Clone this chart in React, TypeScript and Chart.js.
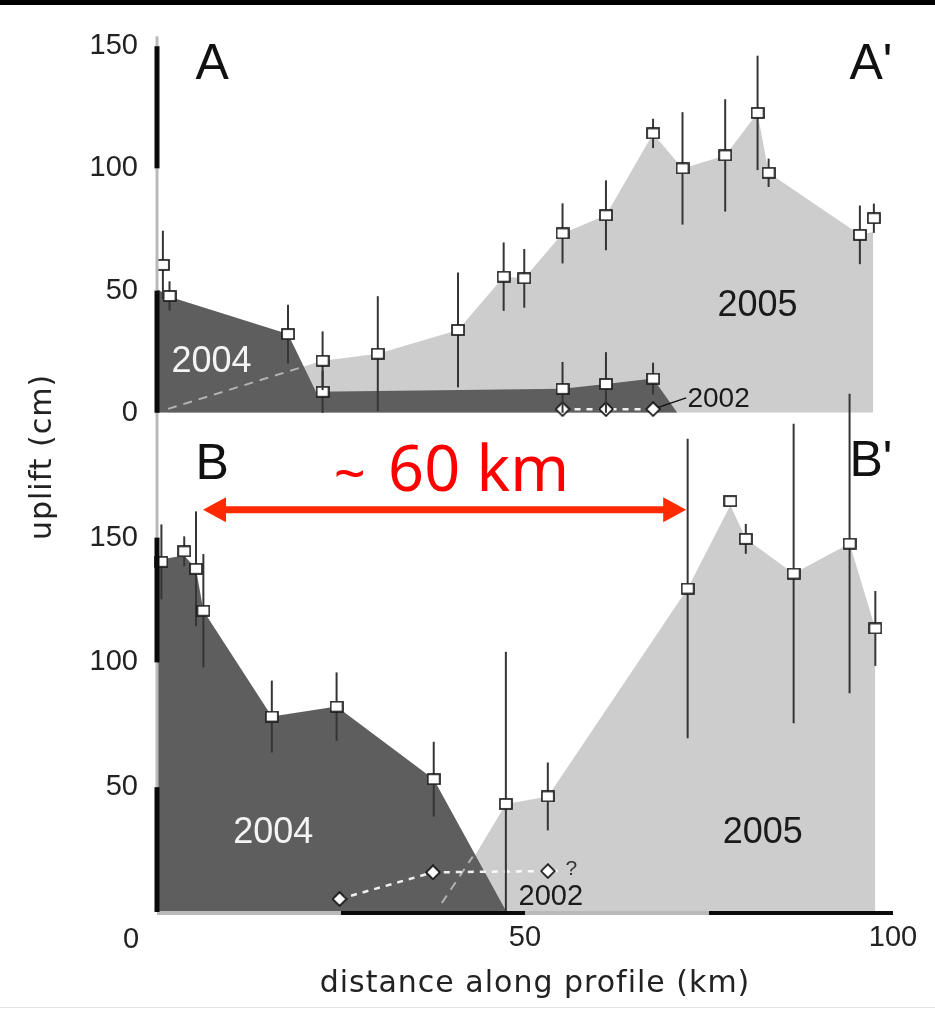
import React, { useEffect, useRef } from 'react';
import { Chart, registerables } from 'chart.js';

Chart.register(...registerables);

// ---------------- data ----------------
// x = distance along profile (km), y = uplift (cm)

// Profile A–A' (upper panel): 2005 measurements
const A_2005_KM = [0.8, 22.5, 30.0, 40.9, 47.1, 49.9, 55.1, 61.0, 67.4, 71.4, 77.2, 81.6, 83.1, 95.5, 97.4];
const A_2005_CM = [60.5, 21.3, 24.2, 33.9, 55.7, 55.0, 73.4, 80.8, 114.3, 100.0, 105.3, 122.7, 98.2, 72.8, 79.6];
const A_2005_ERR = [14, 12, 23.5, 23.5, 14, 12, 12.3, 14.3, 6, 23, 23, 23.4, 5.8, 12, 6];
// Profile A–A': 2004 measurements
const A_2004_KM = [1.7, 17.8, 22.5, 55.1, 61.0, 67.4];
const A_2004_CM = [47.8, 32.2, 8.6, 9.8, 11.8, 14.0];
const A_2004_ERR = [6, 12, 8.6, 11, 13, 6.5];
// Profile A–A': 2002
const A_2002_KM = [55.1, 61.0, 67.4];
const A_2002_CM = [1.5, 1.5, 1.5];
const A_2002_LEADER_KM = [67.4, 71.9];
const A_2002_LEADER_CM = [1.5, 6.1];
// Profile A–A': uplift envelopes
const A_2005_EDGE_KM = [1.5, 19.4, 22.5, 30.0, 40.9, 47.1, 49.9, 55.1, 61.0, 67.4, 71.4, 77.2, 81.6, 83.1, 95.5, 97.3, 97.3];
const A_2005_EDGE_CM = [1.6, 18.4, 21.3, 24.2, 33.9, 55.7, 55.0, 73.4, 80.8, 114.3, 100.0, 105.3, 122.7, 98.2, 72.8, 74.0, 0];
const A_2005_HIDDEN_KM = [1.5, 19.4];
const A_2005_HIDDEN_CM = [1.6, 18.4];
const A_2004_EDGE_KM = [0, 1.7, 17.8, 21.6, 55.1, 61.0, 67.4, 70.7];
const A_2004_EDGE_CM = [50.7, 47.5, 32.2, 8.6, 9.8, 11.8, 14.0, 0];

// Profile B–B' (lower panel): 2005 measurements
const B_2005_KM = [47.4, 53.1, 72.1, 77.9, 80.0, 86.5, 94.1, 97.6];
const B_2005_CM = [43.3, 46.3, 129.6, 164.6, 149.5, 135.6, 147.6, 113.6];
const B_2005_ERR = [61, 13.6, 60, 0, 6, 60, 60, 15];
// Profile B–B': 2004 measurements
const B_2004_KM = [0.6, 3.7, 5.3, 6.3, 15.6, 24.4, 37.6];
const B_2004_CM = [140.3, 144.5, 137.5, 120.7, 78.3, 82.3, 53.2];
const B_2004_ERR = [15, 6, 23, 22.7, 14.4, 13.7, 15];
// Profile B–B': 2002
const B_2002_KM = [24.8, 37.5, 53.1];
const B_2002_CM = [5.2, 15.9, 16.4];
const B_2002_TAIL_KM = 54.8;
// Profile B–B': uplift envelopes
const B_2005_EDGE_KM = [38.6, 47.4, 53.1, 72.1, 77.9, 80.0, 86.5, 94.1, 97.6, 97.6];
const B_2005_EDGE_CM = [0, 43.3, 46.3, 129.6, 163.0, 149.5, 135.6, 147.6, 113.6, 0];
const B_2005_HIDDEN_KM = [38.7, 42.9];
const B_2005_HIDDEN_CM = [3.6, 22.2];
const B_2004_EDGE_KM = [0, 3.7, 5.3, 6.3, 15.6, 24.4, 37.6, 47.5];
const B_2004_EDGE_CM = [141.0, 142.8, 137.5, 120.7, 78.3, 82.3, 53.2, 0];

// axes
const X_TICKS = [50, 100];
const X_ZERO_LABEL = '0';
const A_TICKS = [0, 50, 100, 150];
const B_TICKS = [50, 100, 150];
const A_MAX = 154;
const B_MAX = 200;

// annotation: "~ 60 km" arrow (data coordinates of lower panel)
const ARROW_KM = [6.25, 71.9];
const ARROW_CM = 161.2;

// ---------------- styling ----------------
const LIGHT = '#cdcdcd';
const DARK = '#5e5e5e';
const F_TICK = '"Liberation Sans", Arial, Helvetica, sans-serif';
const F_TITLE = '"DejaVu Sans", Verdana, sans-serif';
const F_RED = '"Noto Sans", "Open Sans", sans-serif';

const LABELS = [
  { text: 'A', km: 7.5, cm: 142.4, axis: 'yA', size: 50, color: '#111' },
  { text: "A'", km: 97.0, cm: 142.4, axis: 'yA', size: 50, color: '#111' },
  { text: 'B', km: 7.5, cm: 178.8, axis: 'yB', size: 50, color: '#111' },
  { text: "B'", km: 97.0, cm: 180.0, axis: 'yB', size: 50, color: '#111' },
  { text: '2004', km: 7.4, cm: 20.8, axis: 'yA', size: 36, color: '#f4f4f4' },
  { text: '2005', km: 81.6, cm: 43.6, axis: 'yA', size: 36, color: '#1a1a1a' },
  { text: '2002', km: 76.3, cm: 5.7, axis: 'yA', size: 28, color: '#1a1a1a' },
  { text: '2004', km: 15.8, cm: 31.6, axis: 'yB', size: 36, color: '#f4f4f4' },
  { text: '2005', km: 82.3, cm: 31.6, axis: 'yB', size: 36, color: '#1a1a1a' },
  { text: '2002', km: 53.5, cm: 6.1, axis: 'yB', size: 29, color: '#1a1a1a' },
  { text: '?', km: 56.3, cm: 17.2, axis: 'yB', size: 21, color: '#333' },
];

const pts = (xs: number[], ys: number[]) => xs.map((x, i) => ({ x, y: ys[i] }));

function makeSquare(): HTMLCanvasElement {
  const c = document.createElement('canvas');
  c.width = 14;
  c.height = 12;
  const g = c.getContext('2d')!;
  g.fillStyle = '#fff';
  g.strokeStyle = '#1e1e1e';
  g.lineWidth = 1.7;
  g.fillRect(1, 1, 12, 10);
  g.strokeRect(1, 1, 12, 10);
  return c;
}

function makeDiamond(): HTMLCanvasElement {
  const c = document.createElement('canvas');
  c.width = 16;
  c.height = 16;
  const g = c.getContext('2d')!;
  g.beginPath();
  g.moveTo(8, 1.2);
  g.lineTo(14.8, 8);
  g.lineTo(8, 14.8);
  g.lineTo(1.2, 8);
  g.closePath();
  g.fillStyle = '#fff';
  g.fill();
  g.strokeStyle = '#111';
  g.lineWidth = 1.7;
  g.stroke();
  return c;
}

const errorBarPlugin = {
  id: 'errorBars',
  beforeDatasetDraw(chart: any, args: any) {
    const ds = chart.data.datasets[args.index];
    if (!ds.errors) return;
    const ys = chart.scales[ds.yAxisID];
    const xs = chart.scales.x;
    const ctx = chart.ctx;
    ctx.save();
    ctx.strokeStyle = '#353535';
    ctx.lineWidth = 2;
    ds.data.forEach((p: any, i: number) => {
      const e = ds.errors[i];
      if (!e) return;
      const px = xs.getPixelForValue(p.x);
      ctx.beginPath();
      ctx.moveTo(px, ys.getPixelForValue(Math.max(0, p.y - e)));
      ctx.lineTo(px, ys.getPixelForValue(p.y + e));
      ctx.stroke();
    });
    ctx.restore();
  },
};

const decorPlugin = {
  id: 'decor',
  beforeDraw(chart: any) {
    const { ctx, width, height } = chart;
    ctx.save();
    ctx.fillStyle = '#fff';
    ctx.fillRect(0, 0, width, height);
    ctx.fillStyle = '#000';
    ctx.fillRect(0, 0, width, 5);
    ctx.fillStyle = '#e4e4e4';
    ctx.fillRect(0, height - 3, width, 1);
    ctx.restore();
  },
  afterDatasetsDraw(chart: any) {
    const ctx = chart.ctx;
    const x = chart.scales.x;
    const yA = chart.scales.yA;
    const yB = chart.scales.yB;
    const area = chart.chartArea;
    ctx.save();
    ctx.lineCap = 'butt';

    const seg = (x1: number, y1: number, x2: number, y2: number, dark: boolean, w: number) => {
      ctx.beginPath();
      ctx.lineWidth = w;
      ctx.strokeStyle = dark ? '#0b0b0b' : '#b9b9b9';
      ctx.moveTo(x1, y1);
      ctx.lineTo(x2, y2);
      ctx.stroke();
    };
    // scale-bar style axes: gray first, black on top
    for (const pass of [false, true]) {
      for (const [sc, mx] of [[yA, A_MAX], [yB, B_MAX]] as any) {
        for (let v = 0; v < mx; v += 50) {
          const dark = (v / 50) % 2 === 0;
          if (dark !== pass) continue;
          seg(area.left, sc.getPixelForValue(v), area.left, sc.getPixelForValue(Math.min(v + 50, mx)), dark, dark ? 5 : 3);
        }
      }
      for (let v = 0; v < 100; v += 25) {
        const dark = (v / 25) % 2 === 1;
        if (dark !== pass) continue;
        const yy = area.bottom + 1;
        seg(x.getPixelForValue(v), yy, x.getPixelForValue(v + 25), yy, dark, 4);
      }
    }

    // text labels inside the panels
    ctx.textAlign = 'center';
    ctx.textBaseline = 'middle';
    for (const l of LABELS) {
      const sc = chart.scales[l.axis];
      ctx.font = `${l.size}px ${F_TICK}`;
      ctx.fillStyle = l.color;
      ctx.fillText(l.text, x.getPixelForValue(l.km), sc.getPixelForValue(l.cm));
    }

    // red arrow "~ 60 km"
    const ax1 = x.getPixelForValue(ARROW_KM[0]);
    const ax2 = x.getPixelForValue(ARROW_KM[1]);
    const ay = yB.getPixelForValue(ARROW_CM);
    ctx.strokeStyle = '#ff2a00';
    ctx.fillStyle = '#ff2a00';
    ctx.lineWidth = 7;
    ctx.beginPath();
    ctx.moveTo(ax1 + 18, ay);
    ctx.lineTo(ax2 - 18, ay);
    ctx.stroke();
    ctx.beginPath();
    ctx.moveTo(ax1, ay);
    ctx.lineTo(ax1 + 23, ay - 12.5);
    ctx.lineTo(ax1 + 23, ay + 12.5);
    ctx.closePath();
    ctx.fill();
    ctx.beginPath();
    ctx.moveTo(ax2, ay);
    ctx.lineTo(ax2 - 23, ay - 12.5);
    ctx.lineTo(ax2 - 23, ay + 12.5);
    ctx.closePath();
    ctx.fill();
    ctx.fillStyle = '#ff0000';
    ctx.textBaseline = 'alphabetic';
    ctx.textAlign = 'left';
    const textBase = ay - 19;
    ctx.font = `56px ${F_RED}`;
    ctx.fillText('~', x.getPixelForValue(24.0), textBase + 2);
    ctx.font = `63px ${F_RED}`;
    ctx.fillText('60 km', x.getPixelForValue(31.4), textBase);

    // axis titles and corner tick
    ctx.fillStyle = '#222';
    ctx.textAlign = 'center';
    (ctx as any).letterSpacing = '1px';
    ctx.font = `30px ${F_TITLE}`;
    ctx.textBaseline = 'alphabetic';
    ctx.fillText('distance along profile (km)', 535, 992);
    ctx.save();
    ctx.translate(51, 457);
    ctx.rotate(-Math.PI / 2);
    ctx.fillText('uplift (cm)', 0, 0);
    ctx.restore();
    (ctx as any).letterSpacing = '0px';
    ctx.font = `29px ${F_TICK}`;
    ctx.textBaseline = 'middle';
    ctx.fillText(X_ZERO_LABEL, 131, 940);
    ctx.restore();
  },
};

export default function App() {
  const ref = useRef<HTMLCanvasElement>(null);

  useEffect(() => {
    const canvas = ref.current!;
    const square = makeSquare();
    const diamond = makeDiamond();

    const measured = (label: string, axis: string, km: number[], cm: number[], err: number[]) => ({
      label,
      yAxisID: axis,
      data: pts(km, cm),
      errors: err,
      showLine: false,
      pointStyle: square,
      pointRadius: 6,
      pointHoverRadius: 6,
      clip: false,
      order: 1,
    });
    const envelope = (label: string, axis: string, km: number[], cm: number[], color: string, order: number) => ({
      label,
      yAxisID: axis,
      data: pts(km, cm),
      fill: 'origin',
      backgroundColor: color,
      borderColor: 'rgba(0,0,0,0)',
      borderWidth: 1,
      pointRadius: 0,
      tension: 0,
      order,
    });
    const hidden = (label: string, axis: string, km: number[], cm: number[]) => ({
      label,
      yAxisID: axis,
      data: pts(km, cm),
      borderColor: '#b3b3b3',
      borderDash: [9, 7],
      borderWidth: 2,
      pointRadius: 0,
      fill: false,
      clip: false,
      order: 15,
    });

    const chart = new Chart(canvas, {
      type: 'line',
      data: {
        datasets: [
          envelope('2005 A', 'yA', A_2005_EDGE_KM, A_2005_EDGE_CM, LIGHT, 20),
          envelope('2004 A', 'yA', A_2004_EDGE_KM, A_2004_EDGE_CM, DARK, 18),
          hidden('2005 A hidden', 'yA', A_2005_HIDDEN_KM, A_2005_HIDDEN_CM),
          envelope('2005 B', 'yB', B_2005_EDGE_KM, B_2005_EDGE_CM, LIGHT, 20),
          envelope('2004 B', 'yB', B_2004_EDGE_KM, B_2004_EDGE_CM, DARK, 18),
          hidden('2005 B hidden', 'yB', B_2005_HIDDEN_KM, B_2005_HIDDEN_CM),
          {
            label: '2002 A leader',
            yAxisID: 'yA',
            data: pts(A_2002_LEADER_KM, A_2002_LEADER_CM),
            borderColor: '#111',
            borderWidth: 1.5,
            pointRadius: 0,
            fill: false,
            clip: false,
            order: 6,
          },
          {
            label: '2002 A',
            yAxisID: 'yA',
            data: pts(A_2002_KM, A_2002_CM),
            borderColor: 'rgba(255,255,255,0.9)',
            borderDash: [6, 6],
            borderWidth: 2.5,
            pointStyle: diamond,
            pointRadius: 7,
            fill: false,
            clip: false,
            order: 5,
          },
          {
            label: '2002 B',
            yAxisID: 'yB',
            data: [...pts(B_2002_KM, B_2002_CM), { x: B_2002_TAIL_KM, y: B_2002_CM[B_2002_CM.length - 1] }],
            borderColor: 'rgba(255,255,255,0.9)',
            borderDash: [6, 6],
            borderWidth: 2.5,
            pointStyle: diamond,
            pointRadius: (c: any) => (c.dataIndex < B_2002_KM.length ? 7 : 0),
            fill: false,
            clip: false,
            order: 5,
          },
          measured('2005 A pts', 'yA', A_2005_KM, A_2005_CM, A_2005_ERR),
          measured('2004 A pts', 'yA', A_2004_KM, A_2004_CM, A_2004_ERR),
          measured('2005 B pts', 'yB', B_2005_KM, B_2005_CM, B_2005_ERR),
          measured('2004 B pts', 'yB', B_2004_KM, B_2004_CM, B_2004_ERR),
        ] as any,
      },
      options: {
        responsive: false,
        animation: false,
        devicePixelRatio: 1,
        events: [],
        layout: { padding: { top: 35, right: 42, bottom: 0, left: 0 } },
        plugins: {
          legend: { display: false },
          tooltip: { enabled: false },
          title: { display: false },
        },
        scales: {
          x: {
            type: 'linear',
            position: 'bottom',
            min: 0,
            max: 100,
            grid: { display: false, drawTicks: false },
            border: { display: false },
            afterBuildTicks: (s: any) => {
              s.ticks = X_TICKS.map((v) => ({ value: v }));
            },
            afterFit: (s: any) => {
              s.height = 98;
            },
            ticks: {
              padding: 9,
              maxRotation: 0,
              autoSkip: false,
              color: '#222',
              font: { family: F_TICK, size: 29 },
            },
          },
          yB: {
            type: 'linear',
            position: 'left',
            stack: 'panels',
            stackWeight: 500,
            min: 0,
            max: B_MAX,
            grid: { display: false, drawTicks: false },
            border: { display: false },
            afterBuildTicks: (s: any) => {
              s.ticks = B_TICKS.map((v) => ({ value: v }));
            },
            afterFit: (s: any) => {
              s.width = 157;
            },
            ticks: { padding: 19, autoSkip: false, color: '#222', font: { family: F_TICK, size: 29 } },
          },
          yA: {
            type: 'linear',
            position: 'left',
            stack: 'panels',
            stackWeight: 377,
            min: 0,
            max: A_MAX,
            grid: { display: false, drawTicks: false },
            border: { display: false },
            afterBuildTicks: (s: any) => {
              s.ticks = A_TICKS.map((v) => ({ value: v }));
            },
            afterFit: (s: any) => {
              s.width = 157;
            },
            ticks: { padding: 19, autoSkip: false, color: '#222', font: { family: F_TICK, size: 29 } },
          },
        } as any,
      },
      plugins: [errorBarPlugin, decorPlugin],
    });

    return () => chart.destroy();
  }, []);

  return (
    <div style={{ position: 'absolute', left: 0, top: 0, width: 935, height: 1010, background: '#fff' }}>
      <canvas ref={ref} width={935} height={1010} style={{ display: 'block', width: 935, height: 1010 }} />
    </div>
  );
}
